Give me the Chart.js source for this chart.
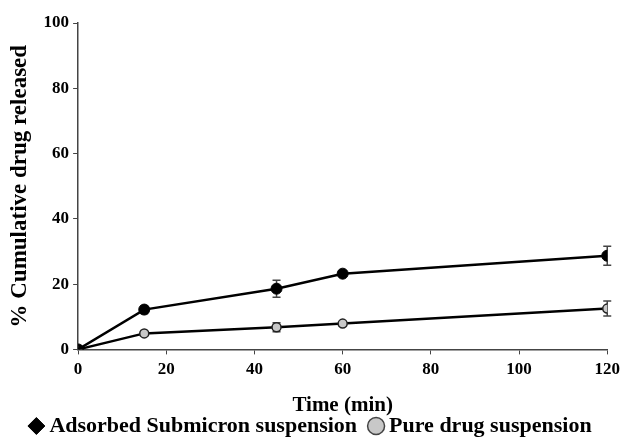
<!DOCTYPE html>
<html>
<head>
<meta charset="utf-8">
<script src="https://cdn.jsdelivr.net/npm/chart.js@4.4.1/dist/chart.umd.min.js"></script>
<style>
  html, body { margin: 0; padding: 0; background: #fff; }
</style>
</head>
<body>
<canvas id="releaseChart" width="625" height="437"></canvas>
<script>
// Release profile data
const tiempos = [0, 15, 45, 60, 120];
const xTicks = [0, 20, 40, 60, 80, 100, 120];
const yTicks = [0, 20, 40, 60, 80, 100];

const submicron = [0, 12.2, 18.6, 23.2, 28.7];
const submicronErr = [0, 1.2, 2.6, 0.8, 2.9];

const puro = [0, 4.9, 6.8, 7.9, 12.5];
const puroErr = [0, 0.6, 1.4, 0.6, 2.3];

const fuente = "'Liberation Serif', 'Times New Roman', serif";

// error bars drawn with the y scale
const errorBars = {
  id: "errorBars",
  beforeDatasetsDraw(chart) {
    const ctx = chart.ctx;
    const y = chart.scales.y;
    chart.data.datasets.forEach((ds, i) => {
      const meta = chart.getDatasetMeta(i);
      meta.data.forEach((pt, j) => {
        const e = ds.errores[j];
        if (!e) return;
        const v = ds.data[j].y;
        const top = y.getPixelForValue(v + e);
        const bot = y.getPixelForValue(v - e);
        ctx.save();
        ctx.strokeStyle = "#444";
        ctx.lineWidth = 1.5;
        ctx.beginPath();
        ctx.moveTo(pt.x, top);
        ctx.lineTo(pt.x, bot);
        ctx.moveTo(pt.x - 4, top);
        ctx.lineTo(pt.x + 4, top);
        ctx.moveTo(pt.x - 4, bot);
        ctx.lineTo(pt.x + 4, bot);
        ctx.stroke();
        ctx.restore();
      });
    });
  },
};

document.addEventListener("DOMContentLoaded", function () {
  const ctx = document.getElementById("releaseChart").getContext("2d");

  new Chart(ctx, {
    type: "line",
    data: {
      datasets: [
        {
          label: "Adsorbed Submicron suspension",
          data: tiempos.map((t, i) => ({ x: t, y: submicron[i] })),
          errores: submicronErr,
          borderColor: "#000",
          borderWidth: 2.5,
          backgroundColor: "#000",
          pointBackgroundColor: "#000",
          pointBorderColor: "#000",
          pointRadius: 5.5,
          pointBorderWidth: 1,
          tension: 0,
        },
        {
          label: "Pure drug suspension",
          data: tiempos.map((t, i) => ({ x: t, y: puro[i] })),
          errores: puroErr,
          borderColor: "#000",
          borderWidth: 2.5,
          backgroundColor: "#c8c8c8",
          pointBackgroundColor: "#c8c8c8",
          pointBorderColor: "#222",
          pointRadius: 4.5,
          pointBorderWidth: 1.5,
          tension: 0,
        },
      ],
    },
    options: {
      responsive: false,
      animation: false,
      layout: { padding: { top: 23, right: 5, left: 6, bottom: -10 } },
      scales: {
        x: {
          type: "linear",
          min: 0,
          max: 120,
          afterBuildTicks: (axis) => {
            axis.ticks = xTicks.map((v) => ({ value: v }));
          },
          grid: { drawOnChartArea: false, drawTicks: true, tickLength: 5, color: "#444" },
          border: { color: "#444", width: 1.5 },
          ticks: {
            color: "#000",
            padding: 5,
            maxRotation: 0,
            font: { family: fuente, size: 17, weight: "bold" },
          },
          title: {
            display: true,
            text: "Time (min)",
            color: "#000",
            padding: { top: 8, bottom: -20 },
            font: { family: fuente, size: 21, weight: "bold" },
          },
        },
        y: {
          min: 0,
          max: 100,
          afterBuildTicks: (axis) => {
            axis.ticks = yTicks.map((v) => ({ value: v }));
          },
          grid: { drawOnChartArea: false, drawTicks: true, tickLength: 5, color: "#444" },
          border: { color: "#444", width: 1.5 },
          ticks: {
            color: "#000",
            padding: 4,
            font: { family: fuente, size: 17, weight: "bold" },
          },
          title: {
            display: true,
            text: "% Cumulative drug released",
            color: "#000",
            padding: { top: 0, bottom: 6 },
            font: { family: fuente, size: 23, weight: "bold" },
          },
        },
      },
      plugins: {
        legend: {
          position: "bottom",
          labels: {
            color: "#000",
            usePointStyle: true,
            boxWidth: 4,
            boxHeight: 12,
            padding: 17,
            font: { family: fuente, size: 22, weight: "bold" },
            generateLabels: (chart) => {
              const items = Chart.defaults.plugins.legend.labels.generateLabels(chart);
              items[0].pointStyle = "rectRot";
              items[0].fillStyle = "#000";
              items[1].pointStyle = "circle";
              items[1].fillStyle = "#c8c8c8";
              items[1].strokeStyle = "#444";
              items[0].lineWidth = 1;
              items[1].lineWidth = 1.5;
              return items;
            },
          },
        },
        tooltip: { enabled: false },
      },
    },
    plugins: [errorBars],
  });
});
</script>
</body>
</html>
